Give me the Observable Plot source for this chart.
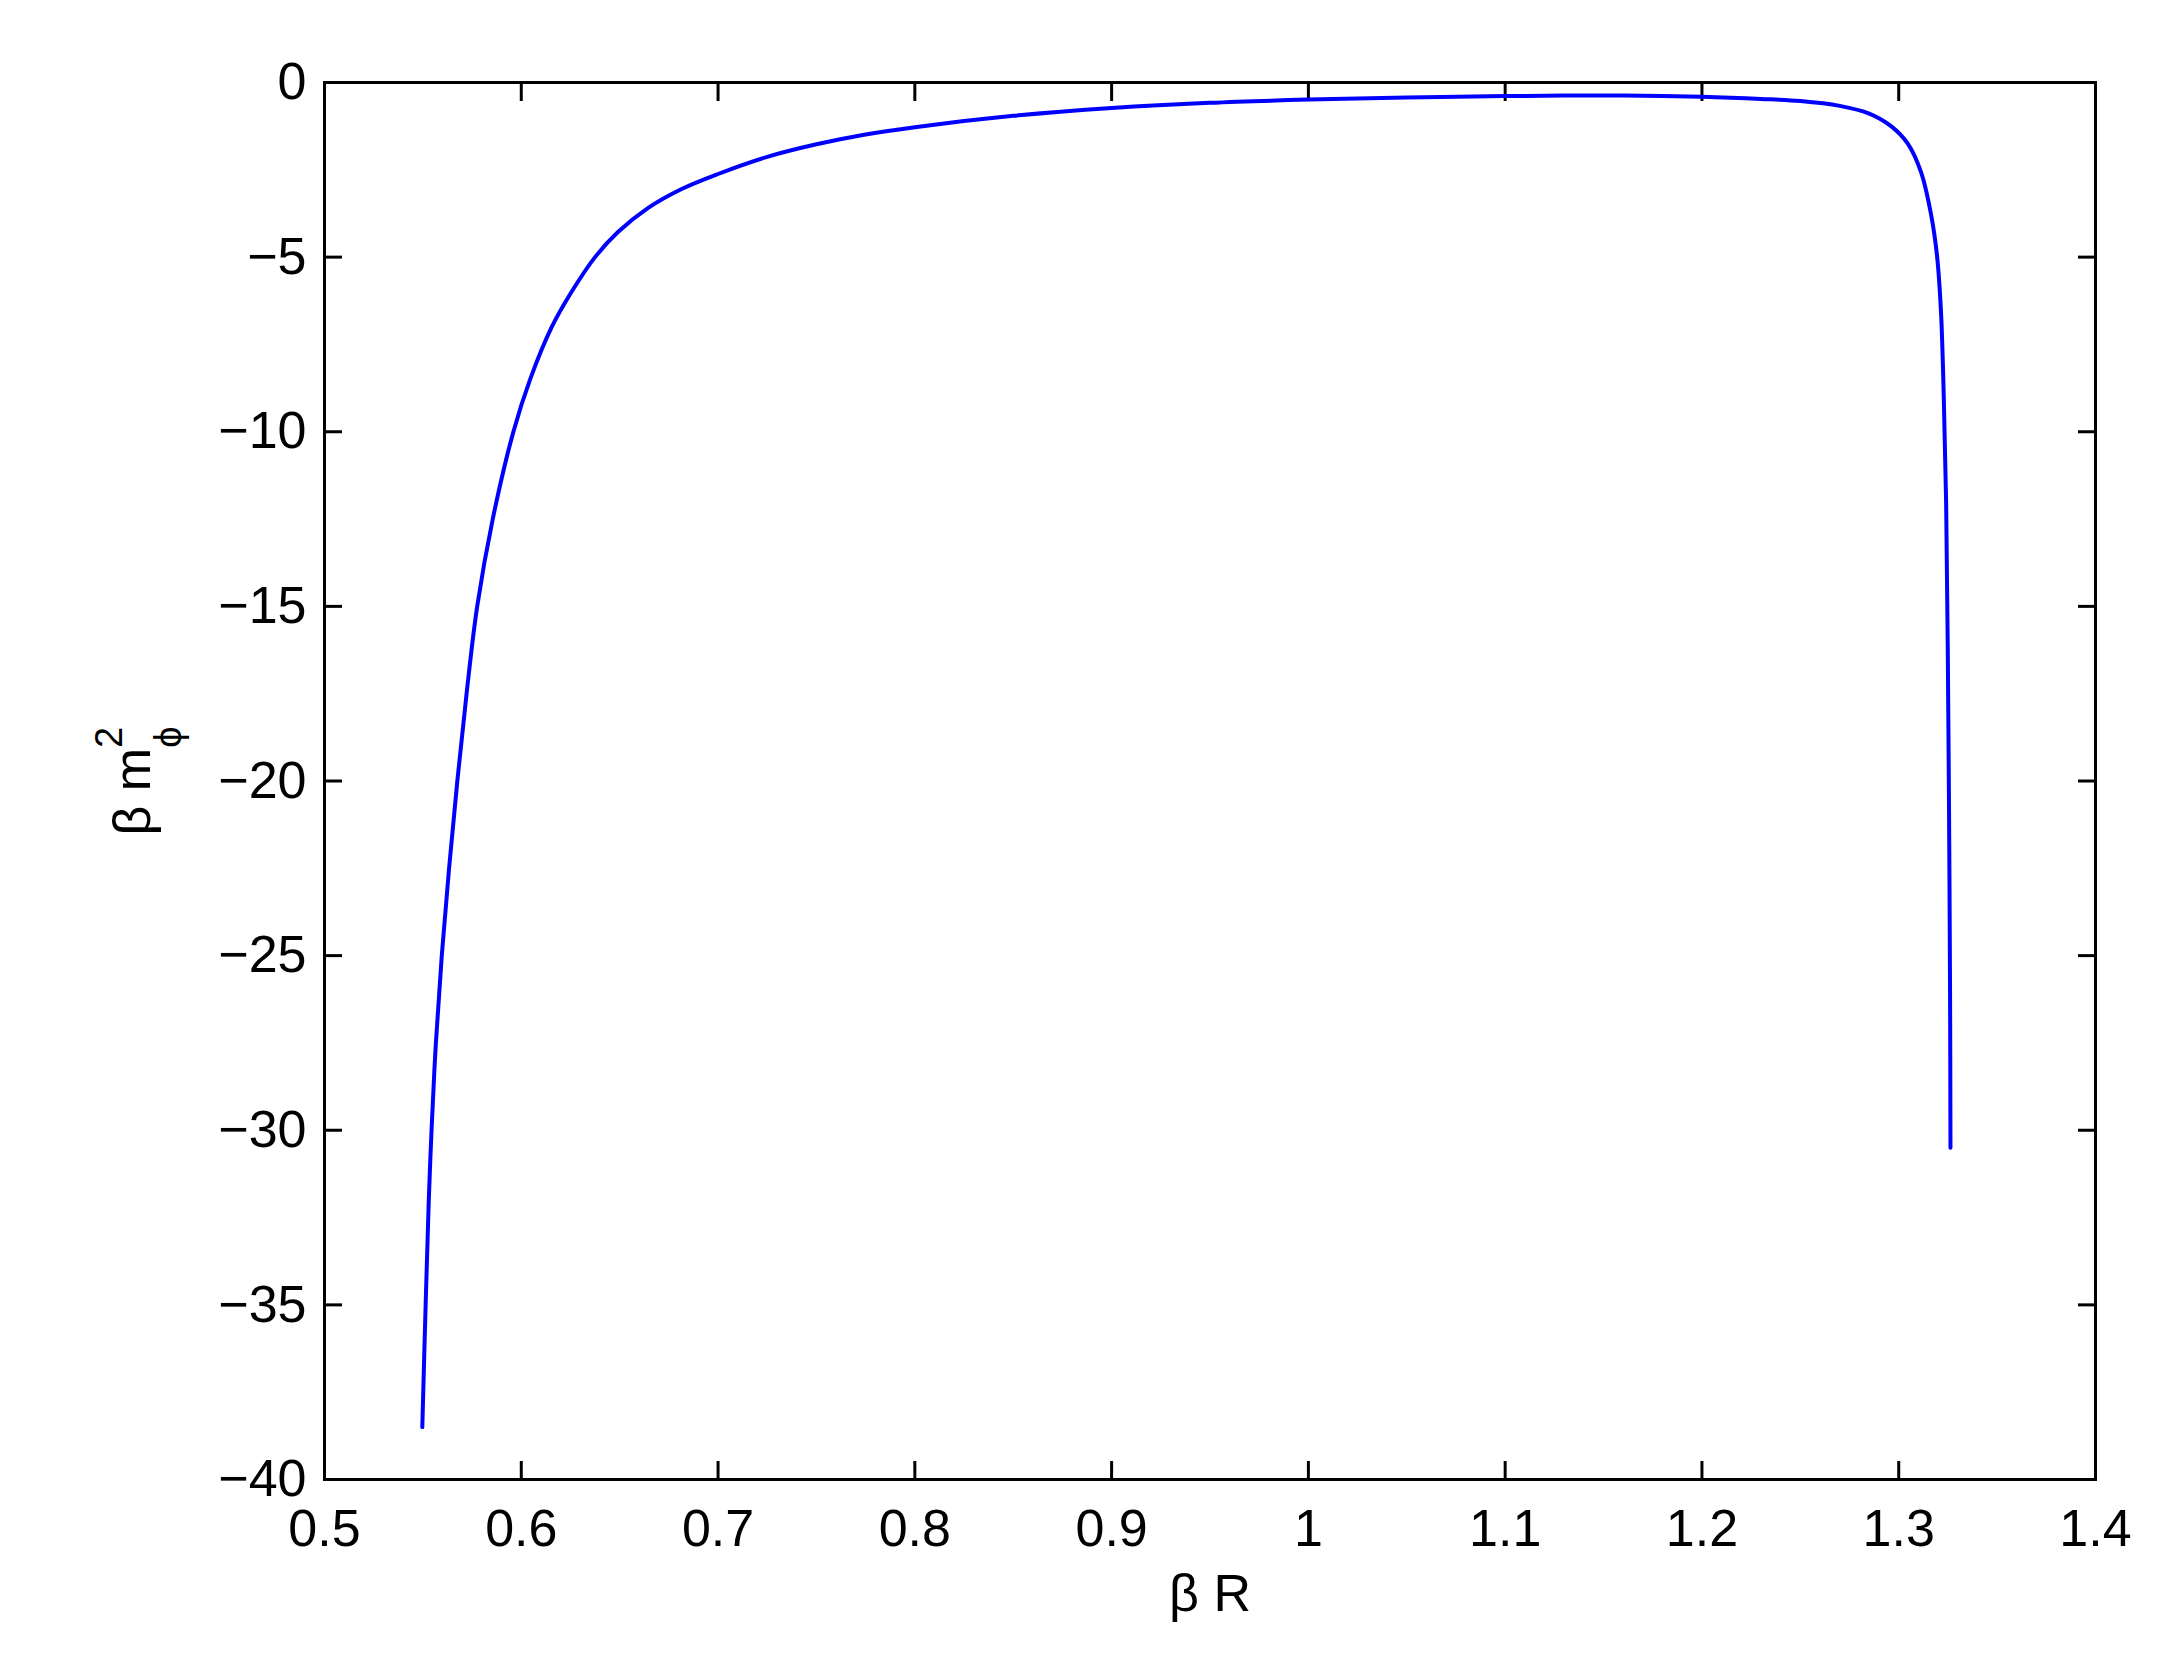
<!DOCTYPE html>
<html>
<head>
<meta charset="utf-8">
<script src="https://cdn.jsdelivr.net/npm/d3@7"></script>
<script src="https://cdn.jsdelivr.net/npm/@observablehq/plot@0.6"></script>
<style>
  html, body { margin: 0; padding: 0; background: #fff; }
  #chart svg { display: block; }
</style>
</head>
<body>
<div id="chart"></div>
<script>
// ---- data ----
const betaR = [
  0.5497, 0.5514, 0.5530, 0.5544, 0.5566, 0.5596, 0.5633, 0.5675, 0.5722, 0.5776,
  0.5855, 0.5960, 0.6045, 0.6155, 0.6255, 0.6375, 0.6490, 0.6645, 0.6815, 0.7000,
  0.7250, 0.7500, 0.7750, 0.8000, 0.8500, 0.9000, 0.9500, 1.0000, 1.0500, 1.1000,
  1.1300, 1.1600, 1.2000, 1.2300, 1.2500, 1.2700, 1.2850, 1.2961, 1.3046, 1.3113,
  1.3164, 1.3195, 1.3215, 1.3229, 1.3241, 1.3249, 1.3256, 1.3261, 1.3263
];
const betaM2 = [
  -38.5, -35.0, -32.0, -30.0, -27.5, -25.0, -22.5, -20.0, -17.5, -15.0,
  -12.5, -10.0, -8.5, -7.0, -6.0, -5.0, -4.29, -3.59, -3.05, -2.62,
  -2.13, -1.77, -1.49, -1.28, -0.955, -0.73, -0.58, -0.49, -0.43, -0.39,
  -0.375, -0.375, -0.41, -0.47, -0.53, -0.67, -0.89, -1.25, -1.75, -2.56,
  -3.77, -4.98, -6.59, -9.02, -12.05, -16.08, -21.14, -26.19, -30.5
];
const xTicks = [0.5, 0.6, 0.7, 0.8, 0.9, 1.0, 1.1, 1.2, 1.3, 1.4];
const yTicks = [-40, -35, -30, -25, -20, -15, -10, -5, 0];
const xDomain = [0.5, 1.4];
const yDomain = [-40, 0];
const xLabel = "β R";
const yLabelMain = "β m";
const yLabelSup = "2";
const yLabelSub = "ϕ";

const points = betaR.map((x, i) => ({x, y: betaM2[i]}));
const fmt = d => String(d).replace("-", "\u2212");
const FONT = 52;

const chart = Plot.plot({
  width: 2159,
  height: 1668,
  marginLeft: 324,
  marginRight: 64,
  marginTop: 82,
  marginBottom: 189,
  style: {
    fontFamily: "'Liberation Sans', Arial, Helvetica, sans-serif",
    fontSize: FONT + "px",
    background: "#ffffff",
    color: "#000000"
  },
  x: {domain: xDomain},
  y: {domain: yDomain},
  marks: [
    // inward ticks on all four sides
    Plot.axisX(xTicks, {anchor: "bottom", tickSize: -18, strokeWidth: 3, tickFormat: () => "", label: null}),
    Plot.axisX(xTicks, {anchor: "top", tickSize: -18, strokeWidth: 3, tickFormat: () => "", label: null}),
    Plot.axisY(yTicks, {anchor: "left", tickSize: -18, strokeWidth: 3, tickFormat: () => "", label: null}),
    Plot.axisY(yTicks, {anchor: "right", tickSize: -18, strokeWidth: 3, tickFormat: () => "", label: null}),
    // tick labels
    Plot.axisX(xTicks, {anchor: "bottom", tickSize: 0, tickPadding: 30, fontSize: FONT, tickFormat: fmt, label: null}),
    Plot.axisY(yTicks, {anchor: "left", tickSize: 0, tickPadding: 18, fontSize: FONT, tickFormat: fmt, label: null}),
    // the curve
    Plot.line(points, {x: "x", y: "y", stroke: "#0000ff", strokeWidth: 4, curve: "catmull-rom"}),
    // frame
    Plot.frame({stroke: "#000", strokeWidth: 3}),
    // axis titles
    Plot.text([xLabel], {text: d => d, frameAnchor: "bottom", dy: 115, fontSize: FONT, textAnchor: "middle", lineAnchor: "middle"}),
    Plot.text([yLabelMain + yLabelSup + yLabelSub], {text: d => d, frameAnchor: "left", dx: -191, rotate: -90, fontSize: FONT, textAnchor: "middle", lineAnchor: "middle"})
  ]
});

// rebuild the y label with stacked superscript / subscript
d3.select(chart).selectAll("text").each(function () {
  if (this.textContent === yLabelMain + yLabelSup + yLabelSub) {
    const t = d3.select(this);
    t.text(null);
    t.append("tspan").text(yLabelMain);
    t.append("tspan").attr("font-size", 38).attr("dy", -28).text(yLabelSup);
    t.append("tspan").attr("font-size", 38).attr("dx", -21).attr("dy", 59).text(yLabelSub);
  }
});

document.getElementById("chart").appendChild(chart);
</script>
</body>
</html>
